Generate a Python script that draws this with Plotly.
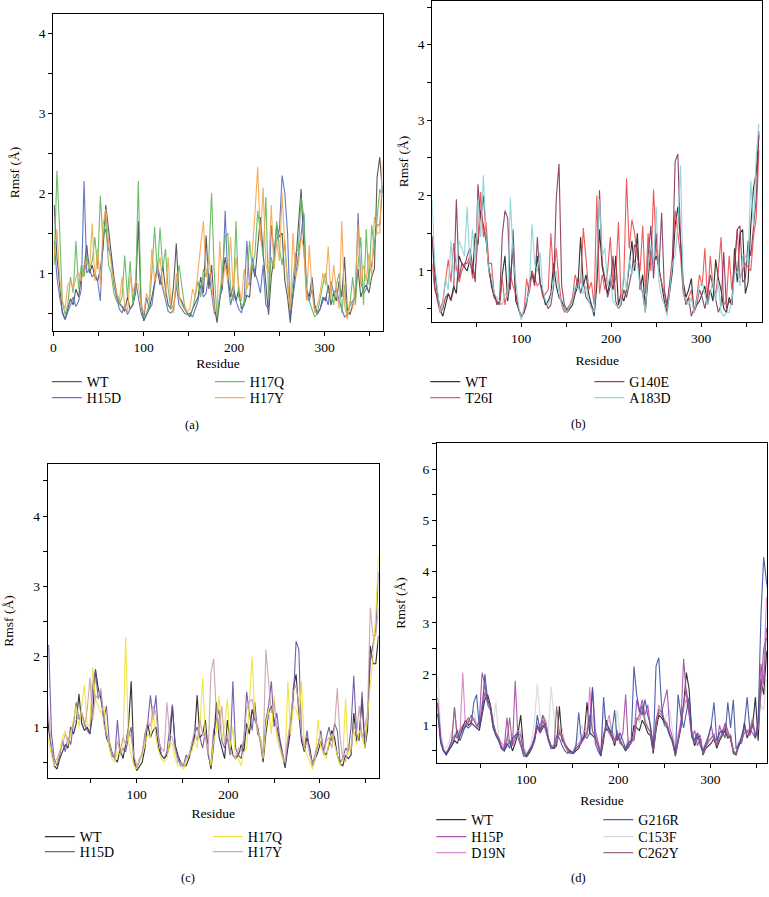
import plotly.graph_objects as go

# Residue numbers sampled along the chain (every 3rd residue)
residues = list(range(1, 365, 3))  # 122 points

# ---------------- Panel (a) ----------------
wt_a = [1.85, 1.20, 0.85, 0.50, 0.42, 0.55, 0.68, 0.60, 0.80, 0.70,
        0.95, 1.05, 1.35, 1.00, 1.10, 0.95, 0.90, 1.05, 1.30, 1.85,
        1.55, 1.20, 0.95, 0.75, 0.62, 0.58, 0.52, 0.70, 0.55, 0.60,
        0.75, 1.65, 0.60, 0.40, 0.48, 0.55, 0.70, 0.90, 1.05, 0.85,
        1.10, 0.80, 0.60, 0.55, 0.85, 1.37, 0.70, 0.65, 0.55, 0.50,
        0.45, 0.55, 0.62, 0.70, 0.95, 0.75, 1.47, 0.80, 1.10, 0.60,
        0.38, 0.65, 0.90, 1.20, 0.95, 0.70, 0.85, 0.65, 0.80, 0.55,
        0.60, 0.72, 0.70, 1.10, 0.95, 1.30, 1.70, 1.25, 0.85, 0.48,
        0.95, 1.20, 1.60, 1.45, 1.50, 0.90, 0.70, 0.38, 0.75, 1.10,
        1.60, 2.05, 1.30, 0.80, 0.70, 0.95, 0.60, 0.50, 0.55, 0.70,
        0.65, 0.85, 0.60, 0.75, 0.65, 0.90, 0.70, 1.20, 0.55, 0.48,
        0.60, 0.75, 1.05, 0.70, 0.80, 0.85, 0.75, 0.95, 1.05, 2.20,
        2.45, 2.00]
h15d_a = [1.40, 0.95, 0.70, 0.52, 0.42, 0.50, 0.60, 0.70, 0.58, 0.65,
          0.80, 2.15, 1.00, 1.05, 0.95, 1.00, 0.90, 0.65, 1.45, 1.55,
          1.30, 1.20, 0.85, 0.70, 0.55, 0.50, 0.60, 0.48, 0.55, 0.62,
          0.90, 0.70, 0.50, 0.42, 0.70, 0.55, 0.60, 0.85, 1.10, 0.95,
          0.80, 0.65, 0.52, 0.50, 0.55, 0.85, 0.60, 0.55, 0.50, 0.48,
          0.50, 0.45, 0.55, 0.65, 0.85, 0.70, 0.75, 1.00, 0.75, 0.50,
          0.45, 0.70, 0.80, 1.78, 0.90, 0.60, 0.75, 0.65, 0.55, 0.50,
          0.65, 1.40, 0.85, 1.20, 1.00, 0.90, 0.75, 1.10, 0.60, 0.55,
          1.60, 1.25, 1.40, 1.55, 2.22, 2.00, 1.50, 0.45, 0.70, 0.95,
          1.25, 1.50, 1.75, 0.75, 0.65, 0.80, 0.55, 0.48, 0.55, 0.65,
          0.70, 0.60, 0.90, 0.75, 0.80, 0.65, 0.55, 0.45, 0.48, 0.60,
          0.65, 0.70, 1.75, 0.90, 0.75, 0.80, 1.00, 1.10, 1.35, 1.60,
          1.60, 2.10]
h17q_a = [1.10, 2.28, 1.55, 0.65, 0.48, 0.60, 0.95, 0.75, 1.40, 0.80,
          1.10, 0.95, 1.20, 1.05, 1.15, 1.45, 1.05, 1.97, 1.40, 1.70,
          1.10, 1.00, 0.75, 0.65, 0.60, 0.70, 1.22, 0.70, 1.15, 0.60,
          0.80, 2.15, 0.65, 0.45, 0.50, 0.60, 1.00, 1.58, 1.00, 1.57,
          1.05, 1.30, 0.80, 0.55, 0.60, 0.85, 1.10, 0.85, 0.60, 0.50,
          0.48, 0.55, 0.75, 0.90, 0.70, 1.05, 0.95, 1.20, 2.00, 1.00,
          0.45, 0.70, 1.05, 1.45, 1.50, 0.80, 0.65, 1.65, 0.70, 0.60,
          0.60, 0.85, 1.40, 1.05, 1.25, 1.78, 1.50, 1.20, 1.95, 0.70,
          1.20, 1.05, 1.65, 1.30, 1.10, 1.40, 0.85, 0.55, 0.90, 1.25,
          1.30, 1.95, 1.70, 0.70, 0.65, 0.55, 0.45, 0.50, 0.70, 0.85,
          1.00, 0.75, 0.80, 0.60, 0.85, 1.00, 0.50, 0.85, 0.45, 0.60,
          0.95, 0.60, 1.10, 1.45, 0.60, 1.55, 0.85, 1.60, 1.30, 1.70,
          2.05, 1.95]
h17y_a = [1.20, 1.55, 0.95, 0.65, 0.55, 0.85, 0.90, 0.80, 0.95, 1.00,
          0.90, 1.10, 1.15, 1.05, 1.62, 0.90, 1.30, 0.85, 1.60, 1.80,
          1.40, 1.10, 0.90, 0.75, 0.65, 0.95, 0.60, 0.50, 0.95, 0.75,
          0.90, 0.85, 0.60, 0.50, 0.75, 0.65, 1.30, 0.90, 1.00, 1.20,
          0.85, 0.70, 1.20, 0.60, 0.50, 1.00, 0.70, 0.60, 0.55, 0.52,
          0.55, 0.80, 0.70, 1.05, 1.35, 1.65, 0.95, 1.20, 0.85, 0.55,
          0.50, 1.40, 0.85, 1.10, 0.90, 1.45, 0.75, 1.20, 0.85, 0.65,
          1.05, 0.80, 0.90, 1.25, 1.75, 2.33, 1.40, 2.07, 1.10, 1.00,
          1.85, 1.05, 1.40, 1.15, 2.00, 1.30, 0.90, 0.55, 1.50, 0.95,
          1.10, 1.45, 1.30, 0.65, 1.35, 0.80, 0.50, 0.60, 0.75, 1.00,
          0.85, 1.33, 0.70, 1.10, 0.80, 0.55, 1.65, 0.60, 0.42, 0.65,
          0.55, 0.85, 1.60, 0.85, 1.10, 0.90, 1.25, 0.95, 1.70, 1.50,
          1.50, 2.40]

# ---------------- Panel (b) ----------------
wt_b = [1.45, 1.00, 0.70, 0.48, 0.40, 0.55, 0.70, 0.62, 0.80, 0.70,
        1.20, 1.10, 1.05, 1.00, 1.15, 0.95, 1.50, 1.35, 1.80, 1.60,
        1.40, 1.05, 0.80, 0.65, 0.60, 0.55, 0.95, 1.20, 0.60, 0.90,
        1.30, 0.60, 0.50, 0.40, 0.45, 0.60, 0.75, 1.00, 0.85, 1.20,
        0.85, 0.70, 0.55, 0.60, 0.70, 1.10, 0.80, 0.65, 0.60, 0.50,
        0.45, 0.50, 0.55, 0.70, 0.80, 1.45, 0.80, 0.95, 0.70, 0.55,
        0.40, 0.80, 1.55, 1.05, 0.85, 0.70, 0.90, 0.75, 1.20, 0.55,
        0.70, 0.60, 0.75, 1.10, 1.40, 1.00, 1.50, 0.75, 0.95, 0.50,
        0.95, 1.30, 1.10, 1.20, 1.05, 0.80, 0.60, 0.45, 0.75, 1.00,
        1.60, 1.85, 1.40, 0.85, 0.65, 0.75, 0.90, 0.45, 0.55, 0.60,
        0.70, 0.80, 0.55, 0.75, 0.60, 1.15, 0.90, 0.75, 0.50, 0.45,
        0.65, 0.55, 1.30, 0.85, 1.50, 1.55, 0.70, 0.85, 1.60, 2.10,
        2.30, 2.80]
t26i_b = [1.10, 0.75, 0.65, 0.50, 0.60, 0.90, 1.15, 0.85, 1.37, 1.05,
          0.85, 1.00, 1.10, 1.10, 1.20, 0.90, 1.00, 1.40, 2.05, 1.45,
          1.65, 1.10, 1.10, 0.70, 0.60, 0.55, 0.90, 0.55, 0.75, 0.95,
          0.80, 0.70, 0.50, 0.40, 0.45, 0.90, 0.70, 1.00, 0.90, 0.80,
          0.85, 0.65, 0.70, 0.75, 1.50, 0.90, 1.30, 0.85, 0.55, 0.45,
          0.50, 0.55, 0.65, 0.95, 0.80, 0.85, 1.57, 1.20, 0.75, 0.85,
          0.55, 2.00, 0.70, 0.95, 0.75, 1.00, 1.45, 0.80, 0.90, 1.65,
          0.60, 0.90, 2.23, 1.30, 1.68, 1.50, 1.20, 1.00, 1.60, 0.70,
          1.50, 1.00, 2.08, 1.30, 1.00, 0.85, 0.70, 0.50, 0.85, 1.20,
          1.80, 1.50, 1.20, 0.70, 0.60, 0.65, 0.75, 0.45, 0.65, 0.95,
          0.80, 1.30, 0.60, 1.20, 0.80, 0.70, 1.00, 1.45, 0.55, 0.60,
          1.20, 0.75, 1.10, 1.55, 0.90, 1.00, 1.10, 1.05, 1.00, 1.45,
          1.70, 2.60]
g140e_b = [1.47, 0.80, 0.60, 0.45, 0.50, 0.65, 0.70, 0.60, 0.75, 1.95,
           0.90, 1.10, 1.05, 1.20, 1.30, 1.10, 0.85, 2.15, 1.70, 2.00,
           1.55, 1.00, 0.85, 0.70, 0.55, 0.60, 1.47, 1.80, 1.70, 0.75,
           1.55, 0.70, 0.50, 0.38, 0.45, 0.55, 0.85, 0.95, 0.80, 1.45,
           0.85, 0.70, 0.60, 0.50, 0.55, 0.80, 1.97, 2.42, 0.80, 0.55,
           0.48, 0.55, 0.60, 0.75, 0.90, 0.70, 0.85, 0.65, 0.60, 0.55,
           0.45, 0.90, 2.07, 1.10, 0.90, 0.65, 0.80, 1.20, 0.60, 0.50,
           0.55, 0.75, 0.65, 0.85, 1.00, 1.35, 1.30, 0.85, 0.70, 0.45,
           1.20, 1.60, 0.90, 1.50, 1.00, 1.77, 0.75, 0.55, 0.80, 1.10,
           2.45, 2.55, 1.40, 0.75, 0.55, 0.65, 0.40, 0.50, 0.55, 0.75,
           0.65, 0.50, 0.70, 0.95, 0.80, 0.60, 0.45, 0.55, 1.25, 0.50,
           0.60, 0.55, 1.00, 1.55, 1.60, 0.85, 0.90, 1.40, 1.20, 1.60,
           1.95, 2.85]
a183d_b = [1.95, 1.10, 0.75, 0.45, 0.55, 0.90, 0.75, 1.40, 0.90, 1.10,
           1.40, 1.30, 1.20, 1.85, 1.10, 1.55, 1.10, 1.95, 1.45, 2.27,
           1.45, 1.00, 0.95, 0.70, 0.65, 0.60, 0.55, 0.70, 0.65, 1.97,
           1.20, 0.85, 0.55, 0.35, 0.50, 0.60, 0.75, 1.62, 1.10, 1.00,
           1.25, 0.75, 0.60, 0.55, 0.65, 0.85, 1.00, 0.70, 0.55, 0.50,
           0.45, 0.55, 0.60, 0.80, 0.75, 0.95, 0.70, 0.80, 0.60, 0.50,
           0.45, 1.10, 1.95, 1.20, 1.30, 0.80, 0.95, 0.60, 0.55, 0.50,
           0.60, 1.00, 0.75, 1.15, 0.95, 1.10, 1.10, 0.80, 0.70, 0.45,
           1.05, 1.35, 1.10, 1.85, 0.85, 0.65, 0.55, 0.40, 0.75, 1.10,
           1.20, 1.60, 2.40, 0.70, 0.60, 0.55, 0.65, 0.45, 0.60, 0.80,
           0.85, 0.70, 0.55, 0.70, 0.90, 0.60, 0.85, 0.45, 0.40, 0.45,
           0.45, 0.60, 0.95, 1.00, 0.80, 1.20, 1.20, 1.10, 2.20, 1.60,
           2.50, 2.95]

# ---------------- Panel (c) ----------------
wt_c = [1.50, 0.95, 0.70, 0.45, 0.40, 0.55, 0.65, 0.75, 0.70, 1.00,
        0.90, 1.05, 1.47, 1.05, 0.95, 1.00, 0.90, 1.20, 1.82, 1.55,
        1.40, 1.10, 0.85, 0.75, 0.60, 0.55, 0.50, 0.70, 0.55, 0.75,
        1.00, 1.65, 0.55, 0.38, 0.45, 0.50, 0.70, 1.05, 0.85, 0.95,
        1.00, 0.70, 0.60, 0.55, 0.60, 0.75, 1.30, 0.75, 0.60, 0.50,
        0.45, 0.45, 0.55, 0.70, 0.85, 1.45, 0.85, 0.90, 1.10, 0.65,
        0.40, 0.75, 1.35, 0.85, 0.70, 0.55, 1.10, 0.80, 0.60, 0.55,
        0.60, 0.75, 0.65, 1.05, 0.90, 1.25, 1.10, 1.00, 0.80, 0.50,
        0.90, 1.20, 1.30, 1.10, 1.00, 0.80, 0.60, 0.42, 0.70, 0.95,
        1.55, 1.75, 1.20, 0.80, 0.65, 0.85, 0.70, 0.45, 0.55, 0.65,
        0.80, 0.65, 0.60, 0.75, 0.95, 0.85, 0.60, 0.48, 0.45, 0.60,
        0.55, 0.60, 1.20, 0.80, 0.90, 1.40, 0.70, 0.95, 2.15, 1.90,
        1.90, 2.30]
h15d_c = [2.20, 2.15, 0.90, 0.55, 0.45, 0.60, 0.80, 0.65, 0.85, 0.75,
          1.05, 1.35, 1.10, 1.20, 1.05, 0.95, 0.90, 1.60, 1.80, 1.40,
          1.50, 1.10, 1.30, 0.80, 0.65, 0.55, 1.10, 0.60, 0.70, 0.65,
          0.85, 1.00, 0.50, 0.40, 0.55, 0.60, 0.90, 1.05, 1.45, 1.10,
          1.45, 0.85, 0.60, 0.55, 0.65, 0.95, 1.32, 0.70, 0.55, 0.45,
          0.45, 0.60, 0.55, 0.75, 0.90, 1.00, 0.85, 0.70, 0.95, 0.60,
          0.45, 0.95, 1.10, 1.25, 0.80, 0.70, 0.85, 0.60, 1.65, 0.70,
          0.60, 0.55, 0.80, 1.50, 1.20, 0.95, 1.35, 0.90, 0.85, 0.55,
          1.10, 1.30, 1.65, 1.00, 1.20, 0.85, 0.65, 0.45, 0.80, 1.05,
          1.40, 2.22, 2.10, 0.85, 0.70, 0.95, 0.60, 0.50, 0.60, 0.75,
          0.95, 0.65, 0.85, 1.00, 0.80, 1.05, 0.95, 0.50, 0.55, 0.70,
          0.65, 1.00, 1.73, 0.90, 0.80, 1.50, 0.80, 1.10, 1.95, 2.20,
          2.40, 3.20]
h17q_c = [0.90, 0.80, 0.60, 0.45, 0.50, 0.65, 0.85, 0.95, 0.75, 0.90,
          1.10, 1.30, 1.00, 1.30, 1.60, 1.00, 1.05, 1.85, 1.40, 1.30,
          1.20, 1.30, 0.95, 0.70, 0.55, 0.50, 0.65, 0.60, 0.70, 2.28,
          0.80, 0.60, 0.45, 0.40, 0.55, 0.60, 0.75, 0.90, 0.85, 1.20,
          0.85, 0.65, 0.55, 0.50, 0.55, 0.80, 0.75, 0.55, 0.45, 0.45,
          0.40, 0.50, 0.60, 0.65, 0.80, 0.70, 1.00, 1.70, 0.85, 0.70,
          0.45, 0.80, 0.95, 1.45, 0.85, 1.00, 1.40, 0.70, 1.00, 0.55,
          0.55, 0.45, 0.65, 0.70, 1.45, 2.00, 1.15, 0.95, 0.85, 0.55,
          1.00, 1.25, 0.90, 1.45, 0.85, 0.70, 0.55, 0.50, 1.65, 0.90,
          1.30, 1.25, 1.10, 1.65, 0.70, 0.60, 0.50, 0.40, 0.55, 1.10,
          0.70, 0.65, 0.55, 0.80, 0.90, 0.75, 0.60, 0.45, 0.55, 1.40,
          0.60, 0.75, 0.95, 0.75, 0.95, 0.85, 0.70, 1.20, 1.60, 2.00,
          2.60, 3.45]
h17y_c = [1.60, 1.15, 0.70, 0.50, 0.55, 0.65, 0.75, 0.90, 0.80, 0.95,
          1.05, 1.10, 1.15, 1.20, 1.00, 1.25, 1.70, 1.10, 1.45, 1.40,
          1.55, 1.05, 0.90, 0.80, 0.60, 0.55, 0.80, 0.65, 0.85, 0.75,
          0.95, 0.85, 0.60, 0.45, 0.50, 0.65, 0.85, 1.10, 1.00, 1.30,
          1.20, 0.80, 0.70, 0.65, 1.35, 0.90, 0.85, 0.65, 0.50, 0.50,
          0.45, 0.55, 0.60, 0.75, 0.95, 0.80, 1.10, 0.90, 0.85, 0.60,
          1.77, 1.97, 1.20, 0.95, 1.30, 0.75, 0.90, 0.65, 0.60, 0.55,
          0.70, 0.65, 0.85, 1.25, 1.35, 1.40, 1.15, 0.95, 0.80, 0.60,
          2.10, 1.70, 1.20, 1.35, 0.95, 0.75, 0.60, 0.50, 0.85, 1.10,
          1.50, 1.60, 1.30, 0.90, 0.70, 0.80, 0.60, 0.45, 0.65, 0.75,
          0.90, 0.60, 0.80, 0.85, 0.70, 1.00, 1.55, 0.85, 0.55, 0.50,
          0.75, 0.65, 1.05, 0.90, 1.30, 0.85, 1.00, 1.20, 2.70, 2.30,
          2.30, 2.70]

# ---------------- Panel (d) ----------------
wt_d = [1.50, 1.40, 0.75, 0.50, 0.42, 0.50, 0.60, 0.70, 0.65, 0.80,
        0.95, 1.10, 1.00, 1.05, 1.00, 0.95, 0.90, 1.20, 1.50, 1.60,
        1.40, 1.05, 0.85, 0.75, 0.55, 0.50, 0.60, 0.70, 0.50, 0.65,
        0.85, 1.20, 0.55, 0.38, 0.45, 0.55, 0.70, 1.00, 0.85, 0.95,
        1.05, 0.75, 0.60, 0.55, 0.60, 1.37, 0.70, 0.65, 0.55, 0.50,
        0.45, 0.50, 0.55, 0.70, 0.80, 1.45, 0.85, 0.80, 0.75, 0.60,
        0.40, 0.70, 1.10, 0.90, 0.80, 0.60, 0.85, 0.70, 0.60, 0.50,
        0.60, 0.65, 1.00, 0.95, 0.90, 1.10, 1.00, 0.85, 0.80, 0.45,
        0.90, 1.20, 1.15, 1.05, 1.00, 0.80, 0.70, 0.40, 0.70, 0.95,
        1.40, 2.03, 1.70, 0.80, 0.60, 0.75, 0.80, 0.42, 0.55, 0.60,
        0.65, 0.75, 0.55, 0.70, 0.80, 0.90, 0.75, 0.80, 0.45, 0.42,
        0.60, 0.70, 1.05, 0.75, 0.90, 1.00, 1.55, 0.70, 1.90, 1.60,
        2.40, 2.60]
h15p_d = [1.30, 1.20, 0.70, 0.50, 0.45, 0.55, 0.70, 0.80, 0.75, 0.90,
          1.00, 1.05, 1.15, 1.05, 1.00, 0.95, 1.10, 2.03, 1.80, 1.40,
          1.30, 0.95, 0.80, 0.70, 0.60, 0.55, 1.15, 0.65, 0.60, 1.87,
          0.75, 0.60, 0.45, 0.40, 0.50, 0.55, 0.75, 0.95, 0.85, 1.10,
          0.90, 0.70, 0.55, 0.55, 0.65, 0.85, 0.75, 0.60, 0.55, 0.45,
          0.45, 0.55, 0.60, 0.65, 0.75, 0.85, 1.10, 1.75, 0.90, 0.70,
          0.45, 0.80, 0.95, 0.85, 0.75, 0.65, 0.80, 0.70, 0.85, 1.60,
          0.55, 0.70, 0.75, 1.50, 1.25, 1.50, 1.20, 1.40, 0.95, 0.55,
          1.10, 1.30, 1.25, 1.50, 1.70, 0.95, 0.75, 0.45, 0.75, 1.00,
          2.30, 1.60, 1.20, 0.75, 0.90, 0.60, 0.75, 0.45, 0.55, 0.80,
          1.00, 0.70, 0.60, 1.00, 0.80, 1.05, 0.90, 0.70, 0.50, 0.45,
          0.65, 0.70, 0.85, 0.90, 0.80, 1.00, 0.80, 1.05, 2.20, 1.80,
          2.90, 2.70]
d19n_d = [1.60, 1.50, 0.75, 0.55, 0.45, 0.55, 0.65, 1.35, 0.75, 0.85,
          2.03, 0.95, 1.10, 1.05, 1.15, 1.00, 1.05, 1.40, 1.80, 1.45,
          1.35, 1.00, 0.85, 0.75, 0.65, 0.60, 0.75, 0.60, 0.65, 0.80,
          0.90, 0.85, 0.55, 0.42, 0.50, 0.60, 0.80, 1.05, 1.00, 1.20,
          1.10, 0.75, 0.60, 0.60, 0.70, 0.90, 0.80, 0.65, 0.50, 0.45,
          0.50, 0.60, 0.65, 0.75, 0.90, 0.80, 1.75, 0.85, 0.80, 0.60,
          0.45, 0.85, 1.00, 1.20, 0.90, 0.70, 0.90, 0.65, 0.60, 0.55,
          0.70, 0.65, 0.75, 1.15, 1.10, 1.35, 1.10, 0.95, 0.90, 0.50,
          1.00, 1.40, 1.25, 1.10, 1.05, 0.85, 0.70, 0.45, 0.80, 1.05,
          1.35, 1.50, 1.25, 0.85, 0.70, 0.85, 0.80, 0.45, 0.60, 0.65,
          0.75, 0.85, 0.60, 0.85, 0.90, 1.00, 0.85, 0.75, 0.50, 0.45,
          0.65, 0.75, 0.95, 0.85, 0.95, 1.15, 0.75, 0.95, 1.60, 2.00,
          3.50, 3.20]
g216r_d = [1.20, 1.20, 0.65, 0.50, 0.45, 0.55, 0.60, 0.75, 0.90, 0.70,
           0.85, 1.00, 0.95, 1.00, 1.45, 1.60, 0.95, 1.30, 2.00, 1.50,
           1.35, 0.95, 0.80, 0.70, 0.55, 0.50, 0.65, 0.55, 0.75, 0.80,
           0.85, 0.65, 0.40, 0.40, 0.50, 0.60, 0.70, 1.20, 0.90, 1.00,
           0.95, 0.70, 0.55, 0.55, 0.80, 0.75, 0.60, 0.50, 0.45, 0.50,
           0.45, 0.60, 1.25, 0.70, 0.80, 0.75, 0.85, 1.72, 0.65, 0.50,
           0.40, 1.55, 0.90, 0.95, 0.85, 1.30, 0.70, 0.85, 0.70, 0.55,
           0.65, 0.70, 2.15, 1.60, 1.30, 1.20, 1.50, 1.20, 1.00, 0.55,
           2.15, 2.32, 1.40, 1.00, 0.95, 0.80, 0.70, 0.45, 1.60, 1.20,
           0.95, 1.25, 1.55, 0.80, 0.70, 0.85, 0.60, 0.50, 0.65, 0.80,
           1.00, 1.45, 0.70, 0.85, 0.90, 0.75, 1.45, 0.95, 1.50, 0.55,
           0.60, 0.80, 1.00, 1.55, 0.90, 0.85, 0.75, 1.10, 3.15, 4.28,
           3.80, 3.50]
c153f_d = [1.95, 1.95, 0.90, 0.60, 0.55, 0.65, 0.90, 0.80, 0.95, 0.85,
           1.00, 1.10, 1.05, 1.15, 1.30, 1.05, 1.00, 1.45, 1.60, 1.50,
           1.30, 1.05, 1.45, 0.80, 0.65, 0.60, 0.80, 0.65, 0.85, 0.75,
           0.95, 0.90, 0.60, 0.45, 0.55, 0.70, 1.10, 1.80, 1.20, 1.05,
           1.10, 0.85, 1.75, 1.20, 0.65, 0.85, 0.95, 0.65, 0.55, 0.50,
           0.50, 0.65, 0.80, 1.00, 0.85, 0.95, 0.85, 1.20, 0.85, 0.65,
           0.50, 1.30, 1.00, 1.10, 0.90, 0.80, 1.30, 0.75, 0.65, 0.60,
           0.75, 0.70, 0.80, 1.15, 1.05, 1.30, 1.15, 1.00, 0.95, 0.60,
           1.05, 1.35, 1.25, 1.10, 1.20, 1.30, 0.90, 0.55, 0.85, 1.05,
           1.30, 1.40, 1.30, 0.85, 0.75, 0.85, 0.70, 0.55, 0.65, 0.75,
           0.85, 0.80, 0.65, 0.85, 0.90, 0.95, 0.80, 0.85, 0.55, 0.55,
           0.70, 0.75, 0.95, 0.90, 0.95, 1.05, 0.85, 1.00, 1.40, 1.30,
           1.90, 1.80]
c262y_d = [1.40, 1.35, 0.70, 0.50, 0.45, 0.55, 0.70, 1.35, 0.75, 0.80,
           0.90, 1.00, 1.05, 1.20, 1.10, 1.00, 0.95, 1.25, 1.65, 1.45,
           1.40, 1.00, 0.85, 0.75, 0.55, 0.55, 0.70, 1.15, 0.60, 0.75,
           0.85, 0.80, 0.50, 0.40, 0.50, 0.60, 0.75, 1.00, 0.90, 1.20,
           1.00, 0.75, 0.60, 0.55, 1.37, 0.85, 0.80, 0.60, 0.50, 0.45,
           0.45, 0.55, 0.60, 0.70, 0.75, 0.85, 1.20, 0.90, 0.75, 0.60,
           0.45, 0.80, 1.05, 0.90, 0.85, 0.70, 0.85, 0.65, 0.60, 0.55,
           0.65, 0.70, 0.70, 1.10, 1.20, 1.40, 1.05, 0.95, 0.85, 0.50,
           1.00, 1.25, 1.20, 1.10, 1.00, 0.80, 0.65, 0.42, 0.75, 1.00,
           1.45, 1.70, 1.30, 0.80, 0.65, 0.80, 0.70, 0.45, 0.60, 0.70,
           0.75, 0.80, 0.60, 0.75, 0.85, 0.95, 0.80, 0.75, 0.50, 0.45,
           0.65, 0.65, 0.95, 0.80, 0.85, 1.10, 0.75, 0.95, 1.70, 2.50,
           2.70, 2.60]

FONT = "Liberation Serif"
W, H = 769, 897

panels = [
    dict(box=(50.5, 381, 14, 331), xr=[0, 364], yr=[0.275, 4.24],
         series=[("WT", wt_a, "#4a4a4a"), ("H15D", h15d_a, "#5a6abc"),
                 ("H17Q", h17q_a, "#5fb85a"), ("H17Y", h17y_a, "#f6a54c")],
         rows=[["WT", "H17Q"], ["H15D", "H17Y"]], row_y=[382, 398],
         leg_x=49, col_gap=163, caption="(a)", cap=(190, 425),
         ystand=16, xstand=4),
    dict(box=(431, 762, 1, 322), xr=[1.3, 367.5], yr=[0.323, 4.58],
         series=[("WT", wt_b, "#1e1e1e"), ("T26I", t26i_b, "#ee4a4a"),
                 ("G140E", g140e_b, "#84325a"), ("A183D", a183d_b, "#86d2d6")],
         rows=[["WT", "G140E"], ["T26I", "A183D"]], row_y=[382, 398],
         leg_x=429, col_gap=164, caption="(b)", cap=(578, 424),
         ystand=6, xstand=10),
    dict(box=(45, 377, 464, 778), xr=[3, 364], yr=[0.275, 4.74],
         series=[("WT", wt_c, "#1e1e1e"), ("H15D", h15d_c, "#6a50a2"),
                 ("H17Q", h17q_c, "#f2e232"), ("H17Y", h17y_c, "#c9a0ab")],
         rows=[["WT", "H17Q"], ["H15D", "H17Y"]], row_y=[837, 852],
         leg_x=42, col_gap=168, caption="(c)", cap=(186, 878),
         ystand=16, xstand=7),
    dict(box=(435.7, 767, 443, 763), xr=[3, 361.6], yr=[0.265, 6.51],
         series=[("C153F", c153f_d, "#d6d6d6"), ("WT", wt_d, "#1a1a1a"),
                 ("D19N", d19n_d, "#d37fc6"), ("C262Y", c262y_d, "#8f5f70"),
                 ("H15P", h15p_d, "#a646a6"), ("G216R", g216r_d, "#3d50a2")],
         rows=[["WT", "G216R"], ["H15P", "C153F"], ["D19N", "C262Y"]],
         row_y=[820, 837, 853],
         leg_x=435, col_gap=167, caption="(d)", cap=(578, 878),
         ystand=13, xstand=9),
]

for p in panels:
    for name, vals, _ in p["series"]:
        assert len(vals) == len(residues), (name, len(vals))

fig = go.Figure()
axis_common = dict(showline=True, linecolor="black", linewidth=1, mirror=True,
                   ticks="outside", ticklen=4, tickwidth=1, tickcolor="black",
                   showgrid=False, zeroline=False,
                   tickfont=dict(family=FONT, size=13.5, color="black"))
annotations = []
legend_count = 0
layout_updates = {}

for i, p in enumerate(panels):
    n = "" if i == 0 else str(i + 1)
    x0, x1, y0, y1 = p["box"]
    layout_updates["xaxis" + n] = dict(
        domain=[x0 / W, x1 / W], anchor="y" + n, range=p["xr"],
        tick0=0, dtick=100,
        minor=dict(tick0=0, dtick=50, ticks="outside", ticklen=4,
                   tickcolor="black", showgrid=False),
        title=dict(text="Residue", font=dict(family=FONT, size=13.5, color="black"),
                   standoff=p["xstand"]),
        **axis_common)
    layout_updates["yaxis" + n] = dict(
        domain=[1 - y1 / H, 1 - y0 / H], anchor="x" + n, range=p["yr"],
        tick0=0, dtick=1,
        minor=dict(tick0=0, dtick=0.5, ticks="outside", ticklen=4,
                   tickcolor="black", showgrid=False),
        title=dict(text="Rmsf (Å)", font=dict(family=FONT, size=13.5, color="black"),
                   standoff=p["ystand"]),
        **axis_common)

    # one horizontal legend per legend row (two columns each)
    row_of = {}
    for r, row in enumerate(p["rows"]):
        legend_count += 1
        lid = "legend" if legend_count == 1 else "legend%d" % legend_count
        for c, name in enumerate(row):
            row_of[name] = (lid, c)
        layout_updates[lid] = dict(
            x=(p["leg_x"] - 5) / W, y=1 - p["row_y"][r] / H,
            xanchor="left", yanchor="middle", orientation="h",
            entrywidth=p["col_gap"] - 45, entrywidthmode="pixels",
            itemwidth=30, bgcolor="rgba(0,0,0,0)", borderwidth=0,
            font=dict(family=FONT, size=14, color="black"),
            traceorder="normal")

    for name, vals, color in p["series"]:
        lid, col = row_of[name]
        fig.add_trace(go.Scatter(
            x=residues, y=vals, mode="lines", name=name,
            line=dict(color=color, width=1.1), opacity=0.9,
            xaxis="x" + n, yaxis="y" + n,
            legend=lid, legendrank=col + 1, hoverinfo="skip"))

    annotations.append(dict(text=p["caption"], x=p["cap"][0] / W, y=1 - p["cap"][1] / H,
                            xref="paper", yref="paper", showarrow=False,
                            xanchor="center", yanchor="middle",
                            font=dict(family=FONT, size=12.5, color="black")))

fig.update_layout(**layout_updates)
fig.update_layout(
    width=W, height=H, margin=dict(l=0, r=0, t=0, b=0),
    paper_bgcolor="white", plot_bgcolor="white",
    showlegend=True, annotations=annotations,
    font=dict(family=FONT, size=13, color="black"))

fig.write_html("out.html", config={"displayModeBar": False},
               post_script="document.body.style.margin='0';document.body.style.overflow='hidden';")
